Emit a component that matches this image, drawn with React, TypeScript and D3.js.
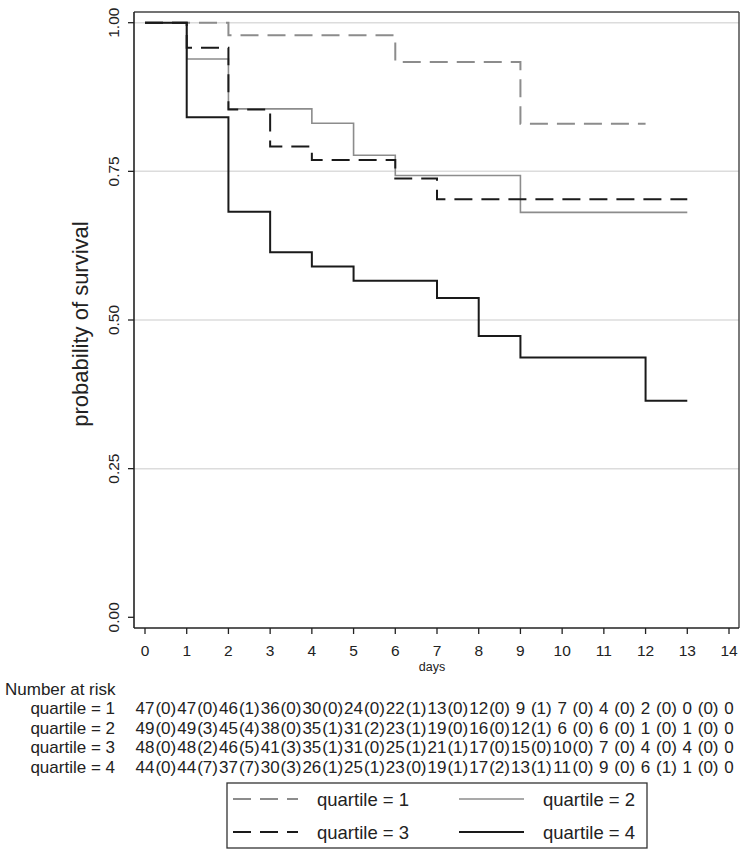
import React from "react";
import * as d3 from "d3";

const xTicks = [0, 1, 2, 3, 4, 5, 6, 7, 8, 9, 10, 11, 12, 13, 14];
const yTicks = [0, 0.25, 0.5, 0.75, 1];
const gridValues = [0.25, 0.5, 0.75, 1];

const q1Times = [0, 2, 6, 9];
const q1Surv = [1, 0.979, 0.934, 0.83];
const q1End = 12;
const q2Times = [0, 1, 2, 4, 5, 6, 9];
const q2Surv = [1, 0.939, 0.855, 0.831, 0.777, 0.743, 0.681];
const q2End = 13;
const q3Times = [0, 1, 2, 3, 4, 6, 7];
const q3Surv = [1, 0.958, 0.854, 0.792, 0.769, 0.738, 0.703];
const q3End = 13;
const q4Times = [0, 1, 2, 3, 4, 5, 7, 8, 9, 12];
const q4Surv = [1, 0.841, 0.682, 0.614, 0.59, 0.566, 0.537, 0.473, 0.437, 0.364];
const q4End = 13;

const seriesLabels = ["quartile = 1", "quartile = 2", "quartile = 3", "quartile = 4"];

const q1AtRisk = [47, 47, 46, 36, 30, 24, 22, 13, 12, 9, 7, 4, 2, 0, 0];
const q1Cens = [0, 0, 1, 0, 0, 0, 1, 0, 0, 1, 0, 0, 0, 0];
const q2AtRisk = [49, 49, 45, 38, 35, 31, 23, 19, 16, 12, 6, 6, 1, 1, 0];
const q2Cens = [0, 3, 4, 0, 1, 2, 1, 0, 0, 1, 0, 0, 0, 0];
const q3AtRisk = [48, 48, 46, 41, 35, 31, 25, 21, 17, 15, 10, 7, 4, 4, 0];
const q3Cens = [0, 2, 5, 3, 1, 0, 1, 1, 0, 0, 0, 0, 0, 0];
const q4AtRisk = [44, 44, 37, 30, 26, 25, 23, 19, 17, 13, 11, 9, 6, 1, 0];
const q4Cens = [0, 7, 7, 3, 1, 1, 0, 1, 2, 1, 0, 0, 1, 0];

const FONT = "'Liberation Sans', Arial, Helvetica, sans-serif";
const GRAY = "#8c8c8c";
const BLACK = "#1a1a1a";

export default function App() {
  const x = d3.scaleLinear().domain([0, 14]).range([145, 729]);
  const y = d3.scaleLinear().domain([0, 1]).range([617.3, 22.7]);

  const frame = { left: 134, right: 739, top: 12, bottom: 628 };

  const line = d3
    .line<[number, number]>()
    .x((d) => x(d[0]))
    .y((d) => y(d[1]))
    .curve(d3.curveStepAfter);

  const mk = (times: number[], surv: number[], end: number): [number, number][] => {
    const pts: [number, number][] = times.map((t, i) => [t, surv[i]]);
    pts.push([end, surv[surv.length - 1]]);
    return pts;
  };

  const series = [
    { pts: mk(q1Times, q1Surv, q1End), color: GRAY, width: 2, dash: "18 9" },
    { pts: mk(q2Times, q2Surv, q2End), color: GRAY, width: 1.6, dash: "" },
    { pts: mk(q3Times, q3Surv, q3End), color: BLACK, width: 2, dash: "18 9" },
    { pts: mk(q4Times, q4Surv, q4End), color: BLACK, width: 2, dash: "" },
  ];

  const risk = [
    { n: q1AtRisk, c: q1Cens },
    { n: q2AtRisk, c: q2Cens },
    { n: q3AtRisk, c: q3Cens },
    { n: q4AtRisk, c: q4Cens },
  ];
  const riskBase = 714;
  const riskStep = 19.5;

  const legendItems = [
    { col: 0, row: 0, s: 0 },
    { col: 1, row: 0, s: 1 },
    { col: 0, row: 1, s: 2 },
    { col: 1, row: 1, s: 3 },
  ];
  const legCols = [{ l0: 233, l1: 298, tx: 317 }, { l0: 459, l1: 524, tx: 543 }];
  const legRows = [799, 832];

  return (
    <svg
      width={747}
      height={855}
      style={{ position: "absolute", left: 0, top: 0, background: "#fff" }}
      fontFamily={FONT}
    >
      <rect x={0} y={0} width={747} height={855} fill="#fff" />
      {/* gridlines */}
      {gridValues.map((v) => (
        <line key={v} x1={frame.left} x2={frame.right} y1={y(v)} y2={y(v)} stroke="#dcdcdc" strokeWidth={1.5} />
      ))}
      {/* frame */}
      <line x1={frame.left} x2={frame.right} y1={frame.top} y2={frame.top} stroke="#444" strokeWidth={1.4} />
      <line x1={frame.right} x2={frame.right} y1={frame.top} y2={frame.bottom} stroke="#444" strokeWidth={1.4} />
      <line x1={frame.left} x2={frame.left} y1={frame.top} y2={frame.bottom} stroke="#222" strokeWidth={1.6} />
      <line x1={frame.left} x2={frame.right} y1={frame.bottom} y2={frame.bottom} stroke="#222" strokeWidth={1.6} />
      {/* y ticks */}
      {yTicks.map((v) => (
        <g key={v}>
          <line x1={frame.left - 6} x2={frame.left} y1={y(v)} y2={y(v)} stroke="#222" strokeWidth={1.3} />
          <text
            transform={`translate(119,${y(v)}) rotate(-90)`}
            textAnchor="middle"
            fontSize={15.5}
            fill="#222"
          >
            {d3.format(".2f")(v)}
          </text>
        </g>
      ))}
      {/* x ticks */}
      {xTicks.map((t) => (
        <g key={t}>
          <line x1={x(t)} x2={x(t)} y1={frame.bottom} y2={frame.bottom + 6} stroke="#222" strokeWidth={1.3} />
          <text x={x(t)} y={656} textAnchor="middle" fontSize={15.5} fill="#222">
            {t}
          </text>
        </g>
      ))}
      <text x={432} y={671} textAnchor="middle" fontSize={12.5} fill="#222">
        days
      </text>
      <text transform="translate(88,324) rotate(-90)" textAnchor="middle" fontSize={22} fill="#222">
        probability of survival
      </text>
      {/* curves */}
      {series.map((s, i) => (
        <path
          key={i}
          d={line(s.pts) || ""}
          fill="none"
          stroke={s.color}
          strokeWidth={s.width}
          strokeDasharray={s.dash || undefined}
        />
      ))}
      {/* risk table */}
      <text x={5} y={695} fontSize={17} fill="#222">
        Number at risk
      </text>
      {risk.map((r, i) => (
        <g key={i} fontSize={17} fill="#222">
          <text x={115} y={riskBase + i * riskStep} textAnchor="end">
            {seriesLabels[i]}
          </text>
          {r.n.map((n, j) => (
            <text key={"n" + j} x={x(xTicks[j])} y={riskBase + i * riskStep} textAnchor="middle">
              {n}
            </text>
          ))}
          {r.c.map((c, j) => (
            <text
              key={"c" + j}
              x={(x(xTicks[j]) + x(xTicks[j + 1])) / 2}
              y={riskBase + i * riskStep}
              textAnchor="middle"
            >
              {`(${c})`}
            </text>
          ))}
        </g>
      ))}
      {/* legend */}
      <rect x={227} y={783} width={420} height={65} fill="#fff" stroke="#333" strokeWidth={1.3} />
      {legendItems.map((it) => {
        const s = series[it.s];
        const c = legCols[it.col];
        const ry = legRows[it.row];
        return (
          <g key={it.s}>
            <line
              x1={c.l0}
              x2={c.l1}
              y1={ry}
              y2={ry}
              stroke={s.color}
              strokeWidth={s.width}
              strokeDasharray={s.dash || undefined}
            />
            <text x={c.tx} y={ry + 6.5} fontSize={18.5} fill="#222">
              {seriesLabels[it.s]}
            </text>
          </g>
        );
      })}
    </svg>
  );
}
